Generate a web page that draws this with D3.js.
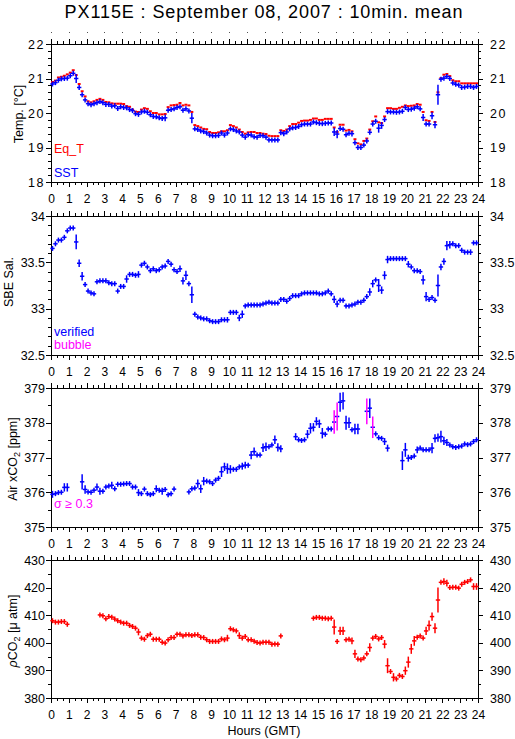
<!DOCTYPE html>
<html><head><meta charset="utf-8">
<script src="https://cdn.jsdelivr.net/npm/d3@7"></script>
<style>
body{margin:0;background:#fff}
svg{display:block}
text{font-family:"Liberation Sans",Arial,Helvetica,sans-serif;fill:#000}
</style>
</head><body>
<svg id="chart" width="515" height="739"></svg>
<script>
// ---------------- DATA (10-minute means, index i = minutes/10) ----------------
const hourTicks = [0,1,2,3,4,5,6,7,8,9,10,11,12,13,14,15,16,17,18,19,20,21,22,23,24];

const eqT = [
20.90,20.94,21.03,21.05,21.08,21.12,21.17,21.24,21.10,20.84,
20.63,20.48,20.34,20.31,20.34,20.38,20.41,20.38,20.32,20.31,
20.28,20.27,20.27,20.27,20.26,20.20,20.18,20.10,20.04,20.03,
20.10,20.14,20.12,20.05,20.00,20.00,19.96,19.96,19.97,20.17,
20.22,20.23,20.24,20.29,20.22,20.24,20.22,20.03,19.65,19.62,
19.58,19.54,19.53,19.45,19.42,19.42,19.44,19.47,19.47,19.50,
19.65,19.62,19.58,19.52,19.45,19.40,19.44,19.45,19.45,19.42,
19.42,19.40,19.39,19.34,19.33,19.33,19.33,19.50,19.48,19.52,
19.62,19.68,19.68,19.72,19.77,19.78,19.78,19.80,19.84,19.84,
19.80,19.80,19.83,19.83,19.83,19.58,19.45,19.66,19.66,19.49,
19.51,19.47,19.24,19.12,19.09,19.19,19.26,19.52,19.76,19.90,
19.73,19.71,19.90,20.14,20.14,20.12,20.12,20.15,20.18,20.22,
20.20,20.21,20.22,20.26,20.24,20.03,19.79,19.77,20.03,19.74,
20.60,21.01,21.11,21.13,21.07,20.95,20.92,20.92,20.86,20.86,
20.86,20.86,20.86,20.86];

const sst = [
20.84,20.88,20.95,20.99,21.00,21.01,21.08,21.15,21.00,20.74,
20.53,20.38,20.27,20.24,20.27,20.30,20.33,20.30,20.25,20.25,
20.20,20.21,20.13,20.18,20.16,20.15,20.10,20.07,19.98,19.96,
20.03,20.05,20.02,19.95,19.90,19.89,19.86,19.84,19.86,20.08,
20.10,20.12,20.16,20.18,20.08,20.12,20.06,19.85,19.54,19.52,
19.48,19.46,19.42,19.36,19.34,19.34,19.35,19.42,19.36,19.42,
19.54,19.52,19.48,19.45,19.36,19.30,19.37,19.36,19.31,19.30,
19.35,19.34,19.30,19.22,19.22,19.22,19.22,19.43,19.40,19.45,
19.54,19.57,19.58,19.61,19.66,19.68,19.68,19.68,19.74,19.72,
19.70,19.69,19.70,19.71,19.71,19.45,19.39,19.55,19.53,19.37,
19.41,19.40,19.14,19.00,19.00,19.07,19.19,19.44,19.68,19.76,
19.56,19.64,19.81,20.04,20.03,20.03,20.02,20.03,20.05,20.16,
20.10,20.11,20.14,20.18,20.12,19.87,19.68,19.68,19.92,19.66,
20.53,20.98,21.01,21.06,21.00,20.87,20.83,20.81,20.74,20.75,
20.77,20.77,20.74,20.77];
const sstSdDefault = 0.06;
const sstSdLarge = [[8,0.13],[9,0.05],[38,0.1],[47,0.15],[95,0.12],[96,0.12],[101,0.08],[110,0.13],[111,0.1],[125,0.1],[128,0.1],[129,0.1],[130,0.29]];

const sal = [
33.65,33.70,33.74,33.74,33.77,33.84,33.87,33.87,33.72,33.49,
33.35,33.26,33.19,33.17,33.16,33.29,33.30,33.30,33.30,33.28,
33.27,33.27,33.19,33.24,33.24,33.32,33.37,33.37,33.36,33.37,
33.47,33.49,33.45,33.41,33.43,33.41,33.42,33.45,33.46,33.51,
33.48,33.42,33.40,33.43,33.30,33.36,33.27,33.15,32.94,32.91,
32.90,32.89,32.89,32.87,32.86,32.86,32.86,32.88,32.88,32.88,
32.96,32.96,32.96,32.90,32.94,33.03,33.04,33.04,33.04,33.04,
33.04,33.05,33.06,33.07,33.06,33.06,33.06,33.10,33.10,33.08,
33.11,33.14,33.14,33.14,33.16,33.17,33.17,33.17,33.17,33.17,
33.16,33.16,33.17,33.19,33.16,33.10,33.05,33.09,33.09,33.03,
33.03,33.04,33.05,33.07,33.07,33.09,33.13,33.18,33.27,33.31,
33.25,33.20,33.36,33.53,33.54,33.54,33.54,33.54,33.54,33.54,
33.48,33.45,33.41,33.41,33.40,33.31,33.13,33.10,33.12,33.09,
33.25,33.45,33.51,33.68,33.69,33.70,33.68,33.68,33.63,33.61,
33.61,33.61,33.71,33.71];
const salSdDefault = 0.025;
const salSdLarge = [[8,0.08],[9,0.04],[10,0.045],[25,0.04],[29,0.035],[43,0.035],[44,0.04],[45,0.05],[47,0.09],[59,0.03],[63,0.035],[64,0.04],[95,0.04],[96,0.035],[107,0.04],[108,0.04],[110,0.07],[111,0.04],[112,0.045],[113,0.04],[120,0.035],[125,0.05],[126,0.05],[130,0.12],[131,0.035],[132,0.035],[133,0.05],[134,0.04],[141,0.03]];

const xco2 = [
375.94,375.96,375.99,376.00,376.14,376.14,null,null,null,null,
376.30,376.08,376.01,376.00,376.06,376.15,376.03,376.03,376.15,376.18,
376.20,376.10,376.23,376.23,376.24,376.25,376.25,376.15,376.15,375.99,
375.96,376.09,375.96,375.93,375.96,376.10,376.06,376.03,376.08,375.93,
375.96,376.09,null,null,null,null,376.01,376.10,376.12,376.25,
376.10,376.32,376.32,376.30,376.25,376.35,376.40,376.59,376.73,376.68,
376.66,376.66,376.66,376.73,376.75,376.78,376.78,377.07,377.17,377.07,
377.07,377.28,377.31,377.31,377.36,377.51,377.29,377.25,null,null,
null,null,377.60,377.51,377.49,377.51,377.67,377.84,377.87,378.04,
377.97,377.70,377.67,377.82,377.82,378.02,378.18,378.59,378.63,378.00,
378.00,377.80,377.82,377.82,null,null,378.33,378.42,377.87,377.68,
377.57,377.55,377.46,377.27,null,null,null,null,376.91,377.22,
376.98,377.00,377.04,377.22,377.27,377.22,377.22,377.22,377.27,377.55,
377.57,377.60,377.48,377.43,377.36,377.31,377.29,377.31,377.33,377.39,
377.37,377.39,377.46,377.51];
const xco2SdDefault = 0.07;
const xco2SdLarge = [[0,0.1],[4,0.12],[5,0.12],[10,0.22],[11,0.12],[15,0.1],[16,0.1],[20,0.1],[29,0.1],[35,0.1],[37,0.1],[49,0.12],[50,0.12],[51,0.12],[57,0.15],[58,0.12],[59,0.15],[60,0.12],[64,0.1],[65,0.1],[67,0.12],[68,0.12],[71,0.12],[72,0.12],[75,0.12],[76,0.12],[77,0.1],[82,0.1],[86,0.12],[87,0.15],[88,0.12],[89,0.12],[90,0.12],[91,0.15],[95,0.34],[96,0.4],[97,0.27],[98,0.25],[99,0.2],[100,0.15],[102,0.15],[103,0.15],[106,0.37],[107,0.28],[108,0.31],[112,0.1],[113,0.1],[118,0.27],[119,0.2],[120,0.1],[123,0.1],[128,0.15],[129,0.12],[130,0.12],[131,0.17],[132,0.12],[133,0.1]];
const xco2FlagSigma = 0.3;

const pco2 = [
408.0,407.5,407.5,407.7,407.7,406.7,null,null,null,null,
null,null,null,null,null,null,410.1,409.8,408.7,409.5,
409.3,408.6,408.0,407.5,407.1,407.1,406.3,405.9,405.3,403.9,
401.7,401.3,402.6,403.1,401.3,401.3,401.3,400.2,399.9,401.1,
401.9,401.9,403.1,403.1,402.5,402.9,402.9,402.6,402.9,402.9,
402.0,401.9,401.1,400.5,400.5,400.5,400.5,401.4,401.1,401.7,
405.1,404.7,404.3,402.6,401.7,402.3,401.1,401.1,400.6,400.1,
399.9,400.2,400.2,400.2,399.5,399.6,399.5,402.5,null,null,
null,null,null,null,null,null,null,null,408.9,409.2,
409.2,408.9,408.9,408.7,408.9,405.7,400.5,404.3,404.3,401.1,
401.3,400.7,396.0,394.1,393.9,394.5,396.0,398.3,401.7,402.3,
401.4,401.9,399.5,391.7,389.6,387.5,386.9,388.2,387.8,389.9,
393.0,397.8,400.7,402.0,402.5,401.7,404.3,406.3,409.5,405.3,
415.5,421.9,422.2,421.6,420.0,420.1,420.1,419.8,421.2,421.9,
422.2,422.8,420.4,420.4];
const pco2SdDefault = 0.8;
const pco2SdLarge = [[29,1.2],[59,1.2],[63,1.2],[95,2.7],[97,1.5],[98,1.5],[101,1.2],[102,1.5],[107,1.5],[112,1.5],[113,2.7],[115,1.5],[119,1.5],[120,2.0],[121,1.8],[122,1.8],[126,1.5],[127,1.8],[128,1.5],[129,1.8],[130,4.5],[132,1.2],[133,1.2],[142,1.2],[143,1.2]];

const tempTicks = [18,19,20,21,22],   tempMinor = [18.2,18.4,18.6,18.8,19.2,19.4,19.6,19.8,20.2,20.4,20.6,20.8,21.2,21.4,21.6,21.8];
const salTicks  = [32.5,33,33.5,34],  salMinor  = [32.6,32.7,32.8,32.9,33.1,33.2,33.3,33.4,33.6,33.7,33.8,33.9];
const xco2Ticks = [375,376,377,378,379], xco2Minor = [375.5,376.5,377.5,378.5];
const pco2Ticks = [380,390,400,410,420,430], pco2Minor = [385,395,405,415,425];

// ---------------- LAYOUT ----------------
const BLUE="#0000ff", RED="#ff0000", MAG="#ff00ff";
const svg = d3.select("#chart");
const X0 = 51, X1 = 478;
const x = d3.scaleLinear().domain([0,24]).range([X0,X1]);
const minorHours = d3.range(0,24*3+1).map(k=>k/3).filter(h=>Math.abs(h-Math.round(h))>1e-6);
const fmt = d => String(d);

const panels = [
  {top:44,  bottom:182, dom:[18,22],    ticks:tempTicks, minor:tempMinor, ls:"1.5px"},
  {top:216, bottom:355, dom:[32.5,34],  ticks:salTicks,  minor:salMinor,  ls:"0px"},
  {top:388, bottom:527, dom:[375,379],  ticks:xco2Ticks, minor:xco2Minor, ls:"0px"},
  {top:560, bottom:698, dom:[380,430],  ticks:pco2Ticks, minor:pco2Minor, ls:"0px"}
];

svg.append("text").attr("x",264).attr("y",18).attr("text-anchor","middle")
  .style("font-size","18px").style("letter-spacing","0.9px").text("PX115E : September 08, 2007 : 10min. mean");

panels.forEach((p,pi)=>{
  p.y = d3.scaleLinear().domain(p.dom).range([p.bottom,p.top]);
  const g = svg.append("g");
  // bottom axis with labels
  const gb = g.append("g").attr("transform",`translate(0,${p.bottom})`);
  gb.call(d3.axisBottom(x).tickValues(hourTicks).tickSize(5).tickPadding(7).tickFormat(fmt));
  gb.append("g").call(d3.axisBottom(x).tickValues(minorHours).tickSize(3).tickFormat(""));
  // top axis
  const gt = g.append("g").attr("transform",`translate(0,${p.top})`);
  gt.call(d3.axisTop(x).tickValues(hourTicks).tickSize(5).tickFormat(""));
  gt.append("g").call(d3.axisTop(x).tickValues(minorHours).tickSize(3).tickFormat(""));
  // left axis
  const gl = g.append("g").attr("class","yl").attr("transform",`translate(${X0},0)`);
  gl.call(d3.axisLeft(p.y).tickValues(p.ticks).tickSize(5).tickPadding(1).tickFormat(fmt));
  gl.append("g").call(d3.axisLeft(p.y).tickValues(p.minor).tickSize(3).tickFormat(""));
  // right axis
  const gr = g.append("g").attr("class","yr").attr("transform",`translate(${X1},0)`);
  gr.call(d3.axisRight(p.y).tickValues(p.ticks).tickSize(5).tickPadding(7).tickFormat(fmt));
  gr.append("g").call(d3.axisRight(p.y).tickValues(p.minor).tickSize(3).tickFormat(""));
  g.selectAll(".domain").remove();
  g.selectAll(".tick line").attr("stroke","#000").attr("shape-rendering","crispEdges");
  g.selectAll(".tick text").style("font-size","12px").attr("fill","#000").style("font-family",'"Liberation Sans",Arial,sans-serif');
  g.selectAll(".yl .tick text, .yr .tick text").style("font-size","12.5px").style("letter-spacing",p.ls);
  g.append("rect").attr("x",X0+0.5).attr("y",p.top+0.5).attr("width",X1-X0).attr("height",p.bottom-p.top)
    .attr("fill","none").attr("stroke","#000").attr("shape-rendering","crispEdges");
  p.g = g.append("g");
});

// dots above first panel (empty top label row)
svg.append("g").selectAll("rect").data(hourTicks).join("rect")
  .attr("x",d=>Math.round(x(d))).attr("y",32).attr("width",1).attr("height",1).attr("fill","#555");

// ---------------- MARKS ----------------
function drawSeries(p, vals, color, opts) {
  const sdMap = new Map(opts.large || []);
  const pts = vals.map((v,i)=>({v,i,sd: sdMap.has(i)? sdMap.get(i) : opts.sd})).filter(d=>d.v!=null);
  const g = p.g.append("g");
  g.selectAll("line.h").data(pts).join("line").attr("class","h")
    .attr("x1",d=>x(d.i/6)-(opts.ext||0)).attr("x2",d=>x((d.i+1)/6)+(opts.ext||0))
    .attr("y1",d=>p.y(d.v)).attr("y2",d=>p.y(d.v))
    .attr("stroke",color).attr("stroke-width",opts.hw||2);
  if (opts.sd != null) {
    g.selectAll("line.v").data(pts).join("line").attr("class","v")
      .attr("x1",d=>x((d.i+0.5)/6)).attr("x2",d=>x((d.i+0.5)/6))
      .attr("y1",d=>Math.min(p.y(d.v+d.sd), p.y(d.v)-2.5))
      .attr("y2",d=>Math.max(p.y(d.v-d.sd), p.y(d.v)+2.5))
      .attr("stroke",d=> opts.flag!=null && d.sd>=opts.flag ? MAG : color)
      .attr("stroke-width",opts.vw||1.5);
  }
}
drawSeries(panels[0], eqT, RED, {sd:null, hw:2});
drawSeries(panels[0], sst, BLUE, {sd:sstSdDefault, large:sstSdLarge, hw:1.5, ext:0.7});
drawSeries(panels[1], sal, BLUE, {sd:salSdDefault, large:salSdLarge, hw:1.5, ext:0.7});
drawSeries(panels[2], xco2, BLUE, {sd:xco2SdDefault, large:xco2SdLarge, hw:1.5, ext:0.7, flag:xco2FlagSigma});
drawSeries(panels[3], pco2, RED, {sd:pco2SdDefault, large:pco2SdLarge, hw:1.5, ext:0.7});

// ---------------- LEGENDS ----------------
const lg = (x0,y0,t,c)=>svg.append("text").attr("x",x0).attr("y",y0).attr("fill",c).style("fill",c).style("font-size","12.5px").text(t);
lg(54,153,"Eq_T",RED);
lg(54,176.5,"SST",BLUE);
lg(54,336,"verified",BLUE);
lg(54,348.5,"bubble",MAG);
lg(54,508,"σ ≥ 0.3",MAG);

// ---------------- AXIS TITLES ----------------
function ytitle(xb, yc, build){
  const t = svg.append("text").attr("transform",`translate(${xb},${yc}) rotate(-90)`)
    .attr("text-anchor","middle").style("font-size","12.5px");
  build(t);
}
ytitle(23,114,t=>t.text("Temp. [°C]"));
ytitle(13,282,t=>t.text("SBE Sal."));
ytitle(17,459,t=>{t.append("tspan").text("Air xCO");t.append("tspan").attr("dy",3).style("font-size","9px").text("2");t.append("tspan").attr("dy",-3).text(" [ppm]");});
ytitle(17,631,t=>{t.append("tspan").style("font-style","italic").text("ρ");t.append("tspan").text("CO");t.append("tspan").attr("dy",3).style("font-size","9px").text("2");t.append("tspan").attr("dy",-3).text(" [μ atm]");});

svg.append("text").attr("x",264).attr("y",735).attr("text-anchor","middle").style("font-size","12.5px").text("Hours (GMT)");
</script>
</body></html>
